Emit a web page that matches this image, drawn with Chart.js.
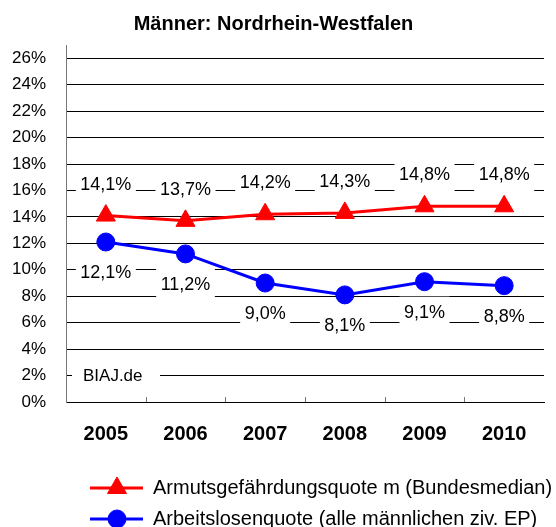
<!DOCTYPE html>
<html>
<head>
<meta charset="utf-8">
<script src="https://cdn.jsdelivr.net/npm/chart.js@4/dist/chart.umd.min.js"></script>
<style>
  body { margin: 0; background: #fff; }
</style>
</head>
<body>
<canvas id="myChart" width="556" height="527"></canvas>
<script>
// chart data
const years = ["2005", "2006", "2007", "2008", "2009", "2010"];
const armutsQuote = [14.1, 13.7, 14.2, 14.3, 14.8, 14.8];
const arbeitslosenQuote = [12.1, 11.2, 9.0, 8.1, 9.1, 8.8];
const seriesNames = ["Armutsgefährdungsquote m (Bundesmedian)", "Arbeitslosenquote (alle männlichen ziv. EP)"];
const yTicks = [0, 2, 4, 6, 8, 10, 12, 14, 16, 18, 20, 22, 24, 26];

const FONT = "'Liberation Sans', Arial, sans-serif";

function fmt(v) {
    return v.toFixed(1).replace(".", ",") + "%";
}

// draws value labels on white boxes, the BIAJ note, x tick marks and the legend
const extras = {
    id: "extras",
    afterDatasetsDraw(chart) {
        const ctx = chart.ctx;
        const area = chart.chartArea;
        ctx.save();
        ctx.font = "18px " + FONT;
        ctx.textAlign = "center";
        ctx.textBaseline = "middle";
        chart.data.datasets.forEach(function(ds, i) {
            const meta = chart.getDatasetMeta(i);
            meta.data.forEach(function(pt, j) {
                const txt = fmt(ds.data[j]);
                const y = i === 0 ? pt.y - 31 : pt.y + 31;
                const w = ctx.measureText(txt).width + 9;
                ctx.fillStyle = "#fff";
                ctx.fillRect(pt.x - w / 2, y - 16, w, 32);
                ctx.fillStyle = "#000";
                ctx.fillText(txt, pt.x, y);
            });
        });

        // BIAJ.de note
        const yScale = chart.scales.y;
        const y2 = yScale.getPixelForValue(2);
        ctx.fillStyle = "#fff";
        ctx.fillRect(area.left + 6, y2 - 14, 88, 28);
        ctx.fillStyle = "#000";
        ctx.textAlign = "left";
        ctx.font = "17px " + FONT;
        ctx.fillText("BIAJ.de", area.left + 17, y2 + 1);

        // small tick marks on the x axis
        const step = (area.right - area.left) / years.length;
        ctx.strokeStyle = "#777";
        ctx.lineWidth = 1;
        for (let k = 1; k < years.length; k++) {
            const x = Math.round(area.left + step * k) + 0.5;
            ctx.beginPath();
            ctx.moveTo(x, area.bottom - 5);
            ctx.lineTo(x, area.bottom);
            ctx.stroke();
        }

        // legend
        const rows = [488, 519];
        ctx.font = "20px " + FONT;
        chart.data.datasets.forEach(function(ds, i) {
            const y = rows[i];
            ctx.strokeStyle = ds.borderColor;
            ctx.fillStyle = ds.borderColor;
            ctx.lineWidth = 3;
            ctx.beginPath();
            ctx.moveTo(90, y);
            ctx.lineTo(143, y);
            ctx.stroke();
            ctx.lineWidth = 1;
            Chart.helpers.drawPoint(ctx, {
                pointStyle: ds.pointStyle,
                radius: ds.pointRadius,
                borderWidth: 1
            }, 117, y);
            ctx.fillStyle = "#000";
            ctx.fillText(seriesNames[i], 153, y);
        });
        ctx.restore();
    }
};

const ctx = document.getElementById("myChart");
const myChart = new Chart(ctx, {
    type: "line",
    data: {
        labels: years,
        datasets: [
            {
                label: seriesNames[0],
                data: armutsQuote,
                borderColor: "#ff0000",
                backgroundColor: "#ff0000",
                borderWidth: 3,
                pointStyle: "triangle",
                pointRadius: 11,
                pointBorderWidth: 1,
                tension: 0
            },
            {
                label: seriesNames[1],
                data: arbeitslosenQuote,
                borderColor: "#0000ff",
                backgroundColor: "#0000ff",
                borderWidth: 3,
                pointStyle: "circle",
                pointRadius: 9,
                pointBorderWidth: 1,
                tension: 0
            }
        ]
    },
    options: {
        responsive: false,
        animation: false,
        events: [],
        layout: { padding: { left: 0, right: 9, top: 0, bottom: 0 } },
        plugins: {
            legend: { display: false },
            tooltip: { enabled: false },
            title: {
                display: true,
                text: "Männer: Nordrhein-Westfalen",
                color: "#000",
                font: { family: FONT, size: 20, weight: "bold" },
                padding: { top: 12, bottom: 9 }
            }
        },
        scales: {
            x: {
                offset: true,
                grid: { display: false, drawTicks: false },
                border: { display: true, color: "#000", width: 1 },
                ticks: {
                    color: "#000",
                    padding: 20,
                    font: { family: FONT, size: 20, weight: "bold" }
                },
                afterFit: function(scale) { scale.width = scale.width; scale.height = 125; }
            },
            y: {
                min: 0,
                max: 27,
                afterBuildTicks: function(scale) {
                    scale.ticks = yTicks.map(function(v) { return { value: v }; });
                },
                grid: { color: "#000", lineWidth: 1, drawTicks: false },
                border: { display: true, color: "#777", width: 1 },
                ticks: {
                    color: "#000",
                    padding: 20,
                    font: { family: FONT, size: 17 },
                    callback: function(v) { return v + "%"; }
                },
                afterFit: function(scale) { scale.width = 66; }
            }
        }
    },
    plugins: [extras]
});
</script>
</body>
</html>
